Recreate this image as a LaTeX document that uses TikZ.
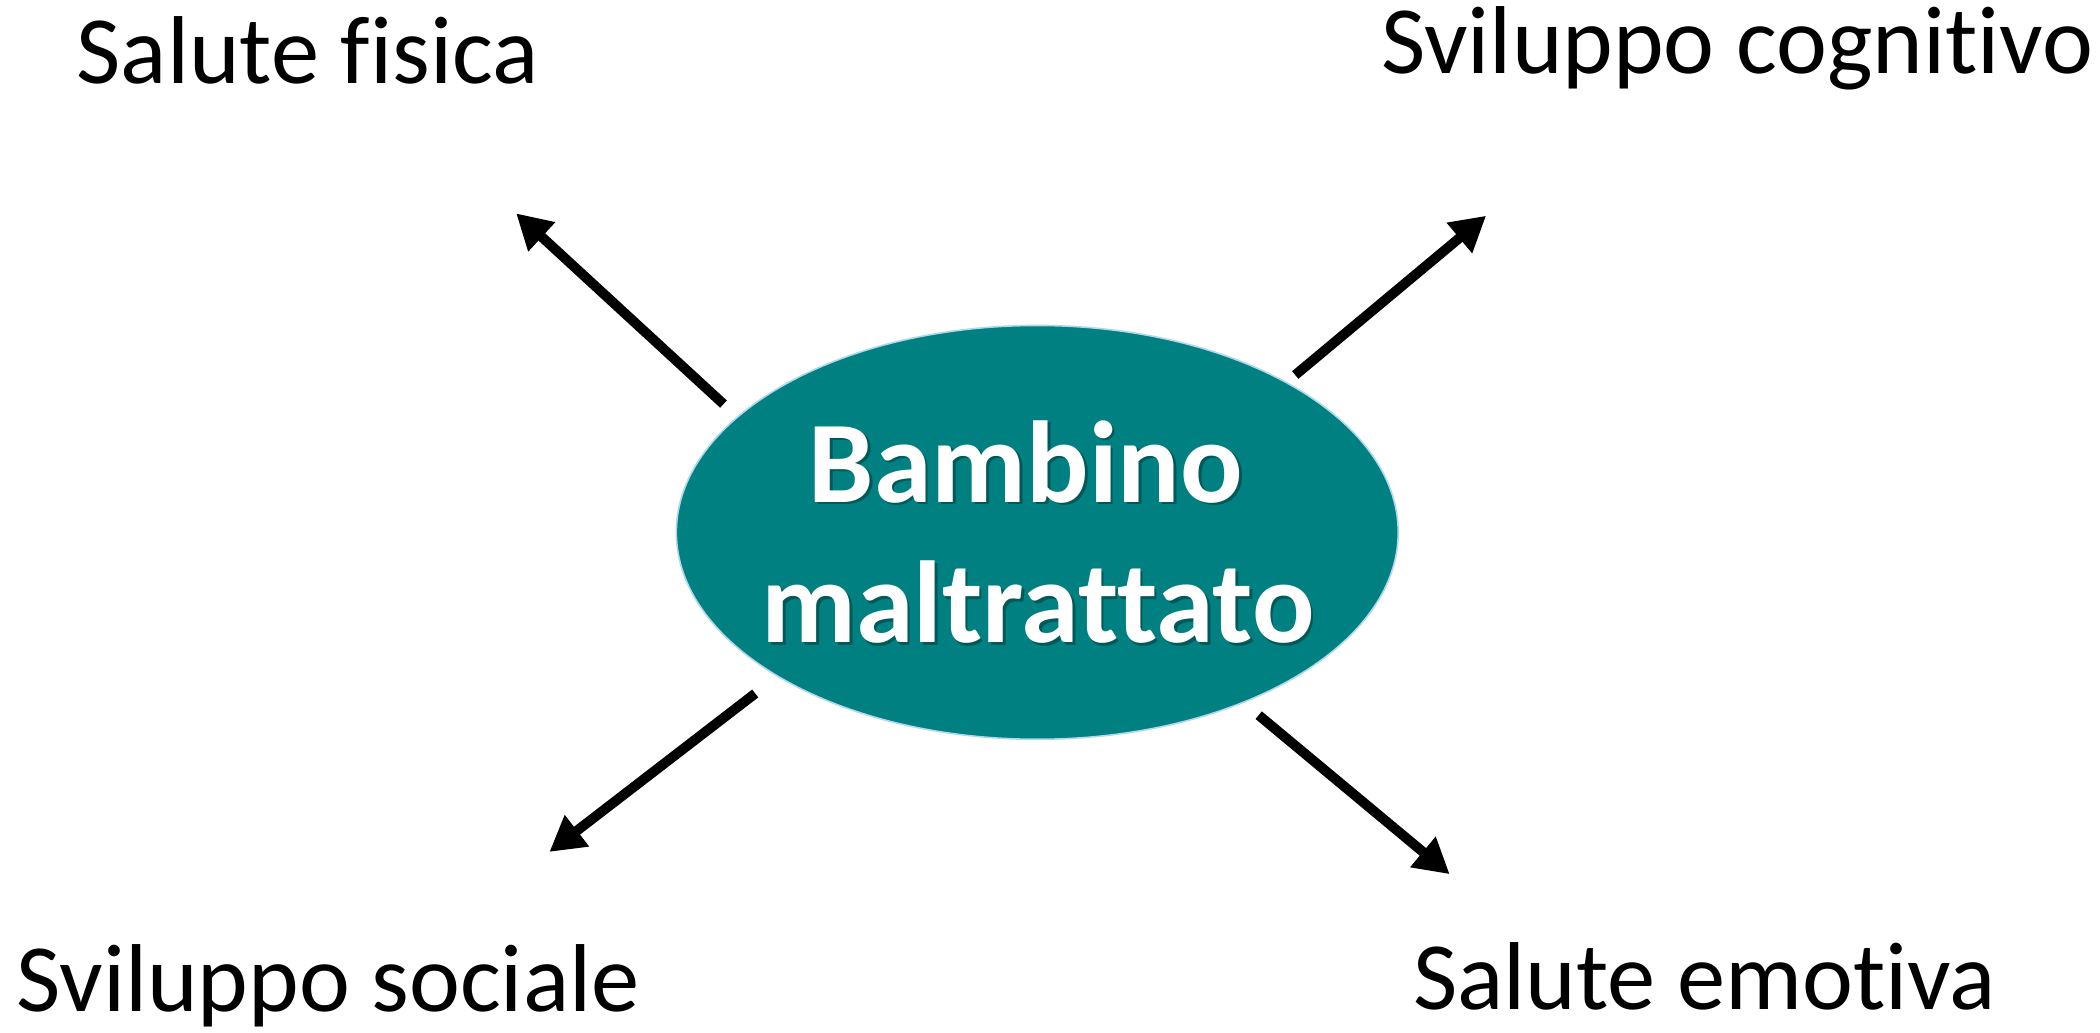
\documentclass[tikz,border=0pt]{standalone}
\usepackage{fontspec}
\setmainfont{Carlito}[Ligatures={NoCommon,NoRare,NoContextual}]
\usetikzlibrary{shapes.geometric,arrows.meta}
\definecolor{tealfill}{RGB}{0,128,128}
\definecolor{edgeblue}{RGB}{175,215,238}
\begin{document}
\begin{tikzpicture}[x=1pt,y=-1pt,
  lbl/.style={anchor=base west,inner sep=0pt,font=\fontsize{72}{86}\selectfont},
  ctr/.style={anchor=base,inner sep=0pt,text=white,font=\fontsize{87}{106}\selectfont\bfseries},
  shd/.style={anchor=base,inner sep=0pt,text=black,opacity=0.3,font=\fontsize{87}{106}\selectfont\bfseries},
  arr/.style={line width=7.4pt,-{Triangle[length=26pt,width=28pt]}}]
\useasboundingbox (0,0) rectangle (1568,770.6);
% central ellipse
\node[ellipse,fill=tealfill,draw=edgeblue,line width=1.2pt,minimum width=539pt,minimum height=309pt,inner sep=0pt] (child) at (774.5,397.5) {};
\node[shd] (s1) at (768,377) {Bambino};
\node[shd] (s2) at (777,482) {maltrattato};
\node[ctr] (t1) at (766,375) {Bambino};
\node[ctr] (t2) at (775,480) {maltrattato};
% labels
\node[lbl] (fis) at (57,62) {Salute fisica};
\node[lbl] (cog) at (1031,55) {Sviluppo cognitivo};
\node[lbl] (soc) at (12,755) {Sviluppo sociale};
\node[lbl] (emo) at (1055,754) {Salute emotiva};
% arrow ends
\coordinate (a1s) at (540.2,301.7);
\coordinate (a1e) at (385.4,159.3);
\coordinate (a2s) at (967.1,280);
\coordinate (a2e) at (1109.6,161.1);
\coordinate (a3s) at (563.9,517.8);
\coordinate (a3e) at (410.2,636.1);
\coordinate (a4s) at (939.8,534);
\coordinate (a4e) at (1082.4,652.7);
\draw[arr] (a1s) -- (a1e);
\draw[arr] (a2s) -- (a2e);
\draw[arr] (a3s) -- (a3e);
\draw[arr] (a4s) -- (a4e);
\end{tikzpicture}
\end{document}
